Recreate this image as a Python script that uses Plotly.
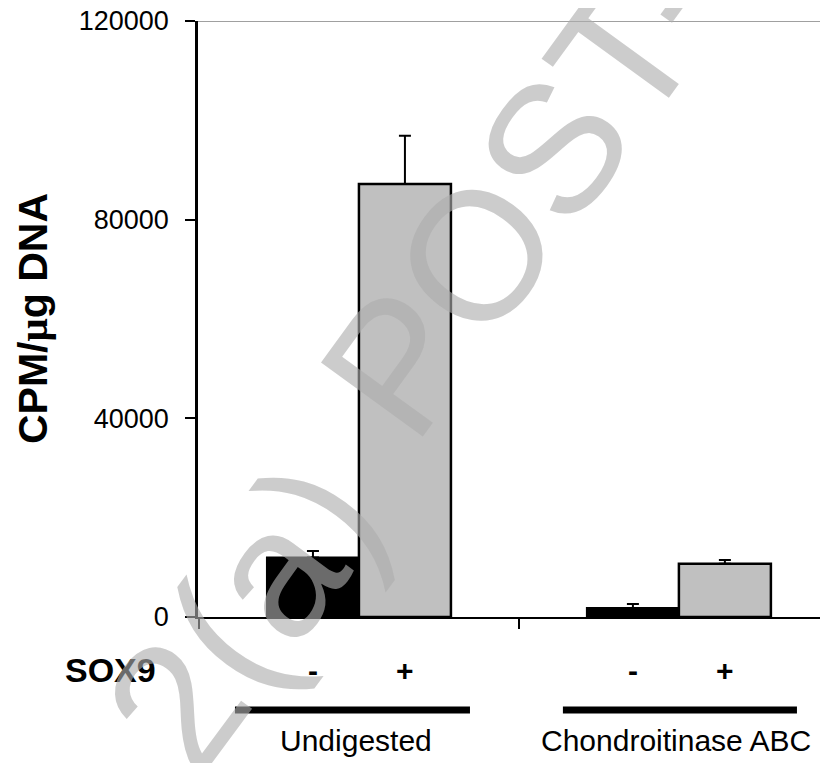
import plotly.graph_objects as go

# ---- data ----
groups = ["Undigested", "Chondroitinase ABC"]
sox9_minus = [12000, 1800]
sox9_minus_err = [1300, 800]
sox9_plus = [87200, 10700]
sox9_plus_err = [9700, 800]
sox9_labels = ["-", "+"]
y_ticks = [0, 40000, 80000, 120000]
y_title = "CPM/<span style='font-family:Liberation Serif'>μ</span>g DNA"
row_label = "SOX9"
watermark_parts = ["2(a)", "POST-"]

FONT = "Liberation Sans, Arial, sans-serif"

fig = go.Figure()
fig.add_trace(go.Bar(
    x=groups, y=sox9_minus, name="SOX9 -",
    marker=dict(color="black", line=dict(color="black", width=2)),
    error_y=dict(type="data", array=sox9_minus_err, arrayminus=[0] * len(groups),
                 symmetric=False, color="black", thickness=2, width=6),
))
fig.add_trace(go.Bar(
    x=groups, y=sox9_plus, name="SOX9 +",
    marker=dict(color="#c0c0c0", line=dict(color="black", width=2.5)),
    error_y=dict(type="data", array=sox9_plus_err, arrayminus=[0] * len(groups),
                 symmetric=False, color="black", thickness=2, width=6),
))

# page-pixel helpers (plot area spans x 198..828, y 21..617 on the page)
H = 596.0
W = 630.0
def py(pix):
    return (617 - pix) / H
def px(pix):
    return (pix - 198) / W

annotations = []
half = 0.14375
for i, g in enumerate(groups):
    for j, lab in enumerate(sox9_labels):
        annotations.append(dict(
            x=i + (-half if j == 0 else half), xref="x", y=py(670), yref="paper",
            text="<b>%s</b>" % lab, showarrow=False,
            font=dict(family=FONT, size=30, color="black"),
            xanchor="center", yanchor="middle"))
    annotations.append(dict(
        x=i - 0.01, xref="x", y=py(740), yref="paper", text=g, showarrow=False,
        font=dict(family=FONT, size=30, color="black"),
        xanchor="center", yanchor="middle"))

annotations.append(dict(
    x=px(63), xref="paper", y=py(670), yref="paper",
    text="<b>%s</b>" % row_label, showarrow=False,
    font=dict(family=FONT, size=34, color="black"),
    xanchor="left", yanchor="middle"))

annotations.append(dict(
    x=px(33), xref="paper", y=0.5, yref="paper",
    text="<b>%s</b>" % y_title, showarrow=False, textangle=-90,
    font=dict(family=FONT, size=41, color="black"),
    xanchor="center", yanchor="middle"))

# watermark (two pieces along the same diagonal)
wm_pos = [((242, 615), -53.5), ((524, 190), -54)]
for txt, ((cx, cy), ang) in zip(watermark_parts, wm_pos):
    annotations.append(dict(
        x=px(cx), xref="paper", y=py(cy), yref="paper",
        text=txt, showarrow=False, textangle=ang,
        font=dict(family=FONT, size=183, color="rgba(172,172,172,0.62)"),
        xanchor="center", yanchor="middle"))

shapes = [
    dict(type="line", xref="paper", yref="y", x0=0, x1=1, y0=120000, y1=120000,
         line=dict(color="#808080", width=1.5), layer="below"),
]
line_spans = [(-0.3875, 0.347), (-0.3625, 0.369)]
for i, (a, b) in enumerate(line_spans):
    shapes.append(dict(type="line", xref="x", yref="paper", x0=i + a, x1=i + b,
                       y0=py(710), y1=py(710), line=dict(color="black", width=7)))

# the page body adds an 8px margin, so the figure is offset by (8, 8)
fig.update_layout(
    width=820, height=755,
    margin=dict(l=190, r=0, t=13, b=146, autoexpand=False),
    paper_bgcolor="white", plot_bgcolor="white",
    barmode="group", bargap=0.425, bargroupgap=0,
    showlegend=False,
    annotations=annotations, shapes=shapes,
    xaxis=dict(type="category", range=[-0.503, 1.466], showticklabels=False,
               tickson="boundaries", ticks="outside", ticklen=10, tickwidth=2,
               tickcolor="black", showline=True, linecolor="black", linewidth=2,
               showgrid=False, zeroline=False, automargin=False),
    yaxis=dict(range=[0, 120000], tickvals=y_ticks, ticktext=[str(v) for v in y_ticks],
               ticks="outside", ticklen=10, tickwidth=2, tickcolor="black",
               showline=True, linecolor="black", linewidth=2.5,
               showgrid=False, zeroline=False, ticklabelstandoff=11,
               automargin=False, ticklabeloverflow="allow",
               tickfont=dict(family=FONT, size=27, color="black")),
)

fig.write_html("out.html")
